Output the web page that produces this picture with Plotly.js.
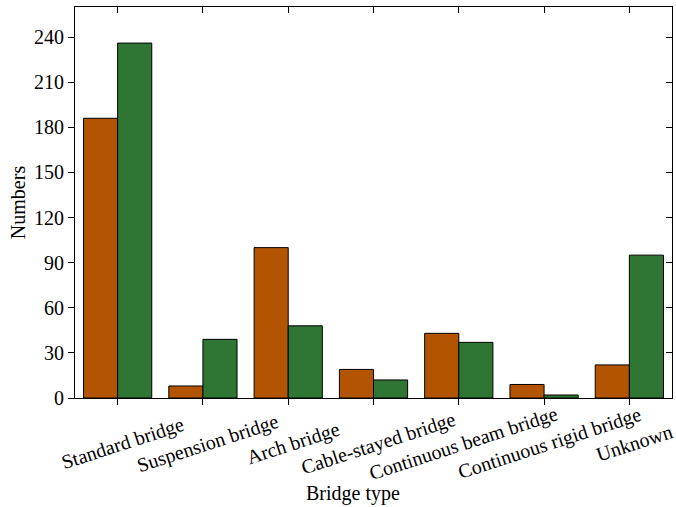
<!DOCTYPE html>
<html><head><meta charset="utf-8">
<script src="https://cdn.plot.ly/plotly-3.0.1.min.js"></script>
<style>html,body{margin:0;padding:0;background:#fff}</style>
</head><body><div id="chart" style="width:676px;height:507px"></div>
<script>
const categories = ["Standard bridge","Suspension bridge","Arch bridge","Cable-stayed bridge","Continuous beam bridge","Continuous rigid bridge","Unknown"];
const seriesA = [186, 8, 100, 19, 43, 9, 22];
const seriesB = [236, 39, 48, 12, 37, 2, 95];
const yTicks = [0, 30, 60, 90, 120, 150, 180, 210, 240];

const font = {family: "Liberation Serif", size: 20, color: "#000"};
const angle = 18;
const labelAnnotations = categories.map(c => ({
  x: c, xref: "x", y: 0, yref: "paper",
  text: c, showarrow: false, textangle: -angle,
  xanchor: "center", yanchor: "middle", xshift: 5, yshift: -45,
  font: font
}));
labelAnnotations.push({
  x: 0.466, xref: "paper", y: 0, yref: "paper",
  text: "Bridge type", showarrow: false,
  xanchor: "center", yanchor: "middle", yshift: -95, font: font
});
const traces = [
  {type: "bar", x: categories, y: seriesA, name: "A", marker: {color: "#b35500", line: {color: "#000", width: 1}}},
  {type: "bar", x: categories, y: seriesB, name: "B", marker: {color: "#2f7533", line: {color: "#000", width: 1}}},
  {type: "scatter", x: [], y: [], xaxis: "x2", yaxis: "y2", showlegend: false}
];
const layout = {
  width: 676, height: 507,
  margin: {l: 75, r: 4, t: 7, b: 109},
  paper_bgcolor: "#fff", plot_bgcolor: "#fff",
  font: font,
  showlegend: false,
  barmode: "group", bargap: 0.2, bargroupgap: 0,
  annotations: labelAnnotations,
  xaxis: {
    type: "category", range: [-0.5, 6.5],
    showline: true, linecolor: "#000", linewidth: 1, mirror: true,
    ticks: "outside", ticklen: 6, tickcolor: "#000",
    showticklabels: false, showgrid: false, zeroline: false
  },
  yaxis: {
    range: [0, 260], tickvals: yTicks,
    showline: true, linecolor: "#000", linewidth: 1, mirror: true,
    ticks: "outside", ticklen: 6, tickcolor: "#000",
    tickfont: font, showgrid: false, zeroline: false,
    title: {text: "Numbers", font: font, standoff: 3}
  },
  xaxis2: {
    overlaying: "x", side: "top", anchor: "y2", range: [-0.5, 6.5],
    tickvals: [0,1,2,3,4,5,6], ticks: "inside", ticklen: 6, tickcolor: "#000",
    showticklabels: false, showgrid: false, zeroline: false, showline: false
  },
  yaxis2: {
    overlaying: "y", side: "right", anchor: "x2", range: [0, 260],
    tickvals: yTicks, ticks: "inside", ticklen: 6, tickcolor: "#000",
    showticklabels: false, showgrid: false, zeroline: false, showline: false
  }
};
Plotly.newPlot("chart", traces, layout, {displayModeBar: false, staticPlot: true});
</script></body></html>
